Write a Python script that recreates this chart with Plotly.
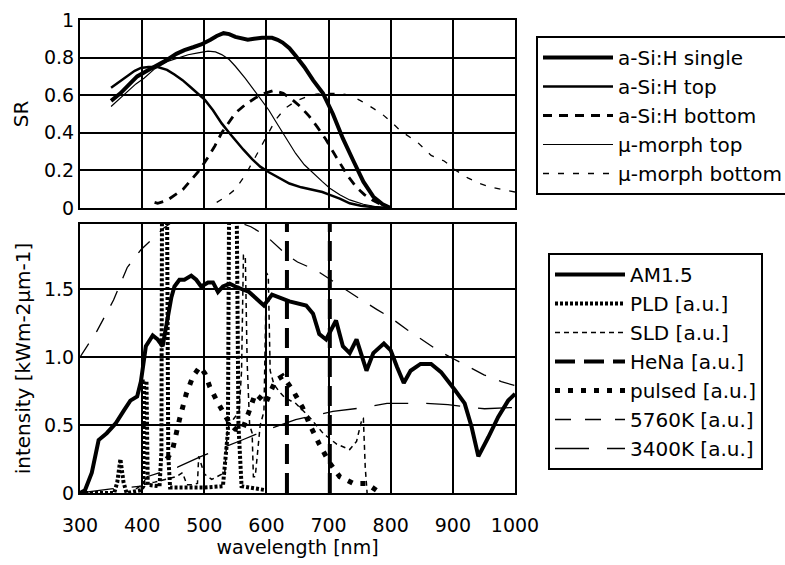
import plotly.graph_objects as go

# ---------------- top panel: spectral response ----------------
asi_single_wl = [350,365,380,392,408,425,441,455,468,482,495,510,520,531,540,550,560,570,580,593,609,618,626,637,647,661,675,691,707,723,740,756,772,787,800]
asi_single_sr = [0.57,0.61,0.66,0.70,0.73,0.76,0.79,0.82,0.84,0.855,0.87,0.895,0.915,0.93,0.925,0.91,0.90,0.895,0.90,0.905,0.905,0.895,0.88,0.85,0.81,0.75,0.68,0.61,0.50,0.37,0.25,0.14,0.06,0.02,0.0]

asi_top_wl = [350,363,376,388,398,410,425,440,452,465,479,490,501,514,528,540,550,563,577,590,604,620,637,656,675,690,702,718,734,752,770,790,800]
asi_top_sr = [0.64,0.67,0.70,0.73,0.745,0.75,0.75,0.735,0.71,0.68,0.64,0.61,0.575,0.52,0.45,0.40,0.36,0.31,0.26,0.22,0.19,0.16,0.13,0.11,0.096,0.085,0.07,0.05,0.025,0.012,0.005,0.0,0.0]

asi_bot_wl = [420,425,440,452,466,479,492,506,517,528,540,550,566,582,597,612,627,642,656,669,682,696,707,718,731,745,758,772,786,800]
asi_bot_sr = [0.03,0.025,0.04,0.07,0.10,0.15,0.20,0.27,0.33,0.40,0.46,0.505,0.55,0.585,0.61,0.625,0.61,0.575,0.535,0.487,0.43,0.363,0.30,0.238,0.17,0.11,0.07,0.04,0.015,0.0]

mu_top_wl = [350,363,376,390,403,420,441,458,474,490,506,518,528,540,550,566,582,594,604,615,626,637,647,661,675,690,702,718,734,756,775,790]
mu_top_sr = [0.54,0.58,0.62,0.66,0.69,0.74,0.78,0.80,0.815,0.825,0.834,0.83,0.816,0.79,0.754,0.69,0.62,0.57,0.52,0.46,0.40,0.34,0.29,0.23,0.185,0.14,0.105,0.07,0.043,0.02,0.008,0.0]

mu_bot_wl = [520,535,550,565,582,598,615,630,648,663,680,696,715,734,752,772,786,800,816,843,865,886,905,924,943,962,980,1000]
mu_bot_sr = [0.03,0.06,0.10,0.17,0.27,0.37,0.47,0.53,0.57,0.59,0.605,0.61,0.61,0.60,0.57,0.53,0.50,0.46,0.41,0.35,0.28,0.25,0.20,0.16,0.13,0.11,0.10,0.085]

# ---------------- bottom panel: spectra ----------------
am15_wl = [300,308,319,330,343,357,371,381,392,398,402,406,417,425,433,438,447,452,460,468,479,487,495,506,514,522,530,541,550,572,596,609,637,664,675,685,696,712,723,734,745,761,772,789,800,810,821,832,848,865,881,903,919,930,941,957,973,989,1000]
am15_val = [0.0,0.02,0.15,0.39,0.44,0.51,0.61,0.68,0.71,0.82,0.95,1.08,1.16,1.13,1.08,1.20,1.44,1.52,1.57,1.57,1.60,1.57,1.52,1.55,1.55,1.48,1.52,1.54,1.52,1.48,1.38,1.46,1.41,1.38,1.32,1.17,1.13,1.27,1.08,1.03,1.13,0.90,1.03,1.10,1.05,0.93,0.81,0.90,0.95,0.95,0.89,0.76,0.66,0.49,0.27,0.41,0.56,0.68,0.73]

pld_wl = [300,355,360,365,370,375,398,402,403,407,409,428,431,432,440,442,445,500,530,538,540,552,555,560,600]
pld_val = [0.0,0.0,0.08,0.25,0.08,0.0,0.02,0.05,0.82,0.82,0.06,0.05,0.3,2.2,2.2,0.28,0.04,0.04,0.05,0.45,2.2,2.2,0.5,0.05,0.02]

sld_wl = [390,400,420,440,455,465,472,480,489,491,500,512,525,533,537,540,548,556,560,563,566,569,573,577,579,582,590,596,600,603,606,612,620,630,647,669,691,713,734,745,754,756,759,762]
sld_val = [0.03,0.06,0.08,0.10,0.12,0.15,0.06,0.06,0.07,0.27,0.14,0.10,0.13,0.15,0.45,0.50,0.55,0.60,0.90,1.75,1.75,0.96,0.50,0.44,0.12,0.12,0.50,0.60,1.62,1.60,0.90,0.80,0.75,0.70,0.66,0.56,0.44,0.36,0.32,0.38,0.55,0.55,0.19,0.0]

hena_wl = [633, 633, None, 702, 702]
hena_val = [0.0, 2.2, None, 0.0, 2.2]

pulsed_wl = [440,449,460,471,482,493,501,509,520,531,541,550,561,572,582,590,599,607,615,626,642,658,669,685,702,718,740,761,777]
pulsed_val = [0.25,0.32,0.54,0.73,0.86,0.93,0.88,0.78,0.68,0.59,0.51,0.47,0.46,0.60,0.73,0.70,0.66,0.75,0.83,0.86,0.76,0.63,0.51,0.36,0.22,0.12,0.07,0.07,0.02]

bb5760_wl = [300,327,354,376,398,419,435,450,475,500,525,550,575,600,631,650,680,700,729,750,778,800,827,850,876,900,924,950,978,1000]
bb5760_val = [1.0,1.19,1.42,1.66,1.79,1.88,1.95,2.0,2.03,2.04,2.02,2.0,1.96,1.89,1.76,1.70,1.64,1.58,1.49,1.43,1.35,1.29,1.20,1.13,1.05,0.99,0.93,0.87,0.82,0.79]

bb3400_wl = [300,350,398,408,457,495,561,598,647,707,759,794,854,892,951,990,1000]
bb3400_val = [0.0,0.03,0.05,0.12,0.19,0.27,0.39,0.46,0.54,0.60,0.63,0.66,0.66,0.65,0.62,0.63,0.63]

x_ticks = [300,400,500,600,700,800,900,1000]
sr_ticks = [0,0.2,0.4,0.6,0.8,1]
sr_labels = ["0","0.2","0.4","0.6","0.8","1"]
int_ticks = [0,0.5,1.0,1.5]
int_labels = ["0","0.5","1.0","1.5"]

FONT = "DejaVu Sans"
K = "black"

fig = go.Figure()

def add(x, y, name, width, dash, yaxis, xaxis, legend):
    fig.add_trace(go.Scatter(x=x, y=y, name=name, mode="lines",
                             line=dict(color=K, width=width, dash=dash),
                             xaxis=xaxis, yaxis=yaxis, legend=legend,
                             connectgaps=False, hoverinfo="skip"))

add(asi_single_wl, asi_single_sr, "a-Si:H single", 4, "solid", "y", "x", "legend")
add(asi_top_wl, asi_top_sr, "a-Si:H top", 2.5, "solid", "y", "x", "legend")
add(asi_bot_wl, asi_bot_sr, "a-Si:H bottom", 2.8, "9px,7px", "y", "x", "legend")
add(mu_top_wl, mu_top_sr, "µ-morph top", 1.2, "solid", "y", "x", "legend")
add(mu_bot_wl, mu_bot_sr, "µ-morph bottom", 1.3, "6px,9px", "y", "x", "legend")

add(am15_wl, am15_val, "AM1.5", 4, "solid", "y2", "x2", "legend2")
add(pld_wl, pld_val, "PLD [a.u.]", 4, "3px,2px", "y2", "x2", "legend2")
add(sld_wl, sld_val, "SLD [a.u.]", 1.5, "5px,4px", "y2", "x2", "legend2")
add(hena_wl, hena_val, "HeNa [a.u.]", 4, "20px,9px", "y2", "x2", "legend2")
add(pulsed_wl, pulsed_val, "pulsed [a.u.]", 5, "5px,8px", "y2", "x2", "legend2")
add(bb5760_wl, bb5760_val, "5760K [a.u.]", 1.3, "16px,14px", "y2", "x2", "legend2")
add(bb3400_wl, bb3400_val, "3400K [a.u.]", 1.3, "34px,18px", "y2", "x2", "legend2")

axis_common = dict(showgrid=True, gridcolor=K, gridwidth=1.6, showline=True,
                   linecolor=K, linewidth=2.2, mirror=True, zeroline=False,
                   ticks="", tickfont=dict(family=FONT, size=19, color=K))

L, R, T, B = 80, 270, 20, 72
W, H = 785, 565
ph = H - T - B
top_dom = [(493 - 208) / ph, 1.0]
bot_dom = [0.0, (493 - 224) / ph]

fig.update_layout(
    width=W, height=H,
    margin=dict(l=L, r=R, t=T, b=B, autoexpand=False),
    paper_bgcolor="white", plot_bgcolor="white",
    font=dict(family=FONT, size=19, color=K),
    xaxis=dict(domain=[0, 1], range=[300, 1000], tickvals=x_ticks,
               showticklabels=False, anchor="y", **axis_common),
    yaxis=dict(domain=top_dom, range=[0, 1], tickvals=sr_ticks, ticktext=sr_labels,
               title=dict(text="SR", font=dict(family=FONT, size=20, color=K), standoff=10),
               anchor="x", **axis_common),
    xaxis2=dict(domain=[0, 1], range=[300, 1000], tickvals=x_ticks, anchor="y2",
                ticklabelstandoff=14,
                title=dict(text="wavelength [nm]", font=dict(family=FONT, size=19, color=K), standoff=4),
                **axis_common),
    yaxis2=dict(domain=bot_dom, range=[0, 1.98], tickvals=int_ticks, ticktext=int_labels,
                title=dict(text="intensity [kWm-2µm-1]", font=dict(family=FONT, size=20, color=K), standoff=8),
                anchor="x2", **axis_common),
    legend=dict(x=(536 - L) / (W - L - R), y=(H - B - 36) / ph, xanchor="left", yanchor="top",
                bordercolor=K, borderwidth=2, bgcolor="white", itemwidth=70,
                font=dict(family=FONT, size=20, color=K), tracegroupgap=0),
    legend2=dict(x=(548 - L) / (W - L - R), y=(H - B - 253) / ph, xanchor="left", yanchor="top",
                 bordercolor=K, borderwidth=2, bgcolor="white", itemwidth=70,
                 font=dict(family=FONT, size=20, color=K), tracegroupgap=0),
    showlegend=True,
)

fig.write_html("out.html")
